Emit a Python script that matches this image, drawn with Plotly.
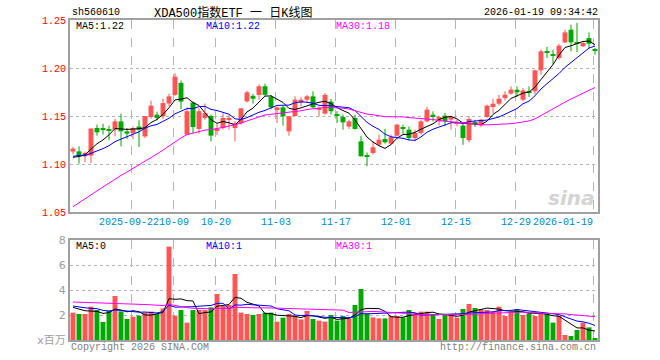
import numpy as np
import plotly.graph_objects as go

# ---------------- data ----------------
dates = [
    "2025-09-08", "2025-09-09", "2025-09-10", "2025-09-11", "2025-09-12", "2025-09-15", "2025-09-16",
    "2025-09-17", "2025-09-18", "2025-09-19", "2025-09-22", "2025-09-23", "2025-09-24", "2025-09-25",
    "2025-09-26", "2025-09-29", "2025-09-30", "2025-10-09", "2025-10-10", "2025-10-13", "2025-10-14",
    "2025-10-15", "2025-10-16", "2025-10-17", "2025-10-20", "2025-10-21", "2025-10-22", "2025-10-23",
    "2025-10-24", "2025-10-27", "2025-10-28", "2025-10-29", "2025-10-30", "2025-10-31", "2025-11-03",
    "2025-11-04", "2025-11-05", "2025-11-06", "2025-11-07", "2025-11-10", "2025-11-11", "2025-11-12",
    "2025-11-13", "2025-11-14", "2025-11-17", "2025-11-18", "2025-11-19", "2025-11-20", "2025-11-21",
    "2025-11-24", "2025-11-25", "2025-11-26", "2025-11-27", "2025-11-28", "2025-12-01", "2025-12-02",
    "2025-12-03", "2025-12-04", "2025-12-05", "2025-12-08", "2025-12-09", "2025-12-10", "2025-12-11",
    "2025-12-12", "2025-12-15", "2025-12-16", "2025-12-17", "2025-12-18", "2025-12-19", "2025-12-22",
    "2025-12-23", "2025-12-24", "2025-12-25", "2025-12-26", "2025-12-29", "2025-12-30", "2025-12-31",
    "2026-01-05", "2026-01-06", "2026-01-07", "2026-01-08", "2026-01-09", "2026-01-12", "2026-01-13",
    "2026-01-14", "2026-01-15", "2026-01-16", "2026-01-19",
]

open_ = [1.113, 1.1132, 1.108, 1.1087, 1.1375, 1.1375, 1.135, 1.1358, 1.1444, 1.134,
         1.1323, 1.139, 1.1288, 1.149, 1.1514, 1.1497, 1.163, 1.172, 1.1845, 1.1306,
         1.164, 1.1365, 1.148, 1.150, 1.135, 1.1375, 1.146, 1.1375, 1.1425, 1.1653,
         1.171, 1.172, 1.181, 1.170, 1.157, 1.159, 1.134, 1.150, 1.164, 1.167,
         1.1705, 1.1567, 1.1525, 1.165, 1.1507, 1.149, 1.139, 1.148, 1.1236, 1.1087,
         1.1115, 1.1201, 1.126, 1.1212, 1.1295, 1.1385, 1.1358, 1.127, 1.1323, 1.1444,
         1.1514, 1.1444, 1.1503, 1.1462, 1.1424, 1.140, 1.1247, 1.1424, 1.140, 1.149,
         1.1594, 1.1628, 1.1687, 1.1733, 1.1774, 1.167, 1.1757, 1.1757, 1.1976, 1.2170,
         1.2146, 1.2104, 1.2267, 1.2399, 1.2257, 1.2226, 1.2312, 1.2188]
high = [1.118, 1.1184, 1.113, 1.137, 1.141, 1.142, 1.140, 1.147, 1.1524, 1.1375,
        1.139, 1.1455, 1.150, 1.166, 1.1545, 1.168, 1.1733, 1.1945, 1.187, 1.159,
        1.165, 1.158, 1.163, 1.1515, 1.1425, 1.153, 1.151, 1.1445, 1.158, 1.1764,
        1.173, 1.183, 1.1837, 1.172, 1.160, 1.1608, 1.150, 1.1705, 1.170, 1.172,
        1.1757, 1.160, 1.174, 1.1677, 1.155, 1.1514, 1.146, 1.1514, 1.1295, 1.112,
        1.1236, 1.1306, 1.1365, 1.1306, 1.142, 1.141, 1.139, 1.1358, 1.146, 1.1594,
        1.1549, 1.1503, 1.153, 1.1503, 1.146, 1.142, 1.1497, 1.146, 1.147, 1.1618,
        1.168, 1.172, 1.1757, 1.1809, 1.1809, 1.1792, 1.1809, 1.1983, 1.2191, 1.2219,
        1.2191, 1.2253, 1.2399, 1.2451, 1.2469, 1.2278, 1.2371, 1.2208]
low = [1.110, 1.1003, 1.102, 1.101, 1.1295, 1.1306, 1.1247, 1.1288, 1.1184, 1.126,
       1.126, 1.1177, 1.127, 1.147, 1.1455, 1.147, 1.160, 1.171, 1.157, 1.1306,
       1.132, 1.1316, 1.146, 1.1235, 1.1305, 1.136, 1.136, 1.1235, 1.141, 1.164,
       1.163, 1.167, 1.171, 1.157, 1.1427, 1.140, 1.1295, 1.1497, 1.160, 1.1635,
       1.158, 1.1497, 1.1515, 1.1515, 1.1427, 1.1358, 1.1365, 1.1358, 1.108, 1.0976,
       1.1097, 1.1184, 1.1212, 1.1198, 1.1288, 1.1306, 1.1247, 1.1236, 1.1306, 1.1434,
       1.1444, 1.140, 1.1392, 1.1358, 1.1392, 1.120, 1.1226, 1.1385, 1.1385, 1.148,
       1.1531, 1.1608, 1.1663, 1.1722, 1.1698, 1.1653, 1.1698, 1.1722, 1.193, 1.2104,
       1.2035, 1.2087, 1.2260, 1.2174, 1.2167, 1.2219, 1.2208, 1.2139]
close = [1.116, 1.108, 1.1115, 1.137, 1.133, 1.1358, 1.1345, 1.1444, 1.134, 1.1316,
         1.1375, 1.1358, 1.150, 1.1608, 1.148, 1.1635, 1.1705, 1.191, 1.165, 1.155,
         1.1385, 1.155, 1.153, 1.1295, 1.136, 1.148, 1.148, 1.1425, 1.158, 1.1747,
         1.168, 1.181, 1.172, 1.159, 1.159, 1.1497, 1.1497, 1.167, 1.167, 1.1705,
         1.159, 1.158, 1.172, 1.155, 1.150, 1.1434, 1.1444, 1.1365, 1.108, 1.108,
         1.1174, 1.1253, 1.1226, 1.128, 1.141, 1.1365, 1.127, 1.1323, 1.1444, 1.1566,
         1.149, 1.149, 1.1444, 1.149, 1.1434, 1.127, 1.1469, 1.1418, 1.1462, 1.1608,
         1.1628, 1.168, 1.1722, 1.1774, 1.1747, 1.1767, 1.174, 1.1976, 1.2174, 1.2160,
         1.2128, 1.2233, 1.2371, 1.2267, 1.2253, 1.2260, 1.2253, 1.2184]
# volume, millions
volume = [2.19, 2.08, 2.08, 2.67, 2.40, 1.44, 2.35, 3.52, 2.29, 1.68,
          1.87, 1.95, 2.19, 2.27, 2.08, 2.53, 7.47, 1.95, 2.40, 1.39,
          2.40, 2.40, 2.40, 2.61, 3.68, 2.72, 2.80, 5.28, 2.19, 2.08,
          2.00, 2.08, 2.19, 2.19, 1.47, 1.79, 2.08, 1.95, 1.65, 2.32,
          1.68, 1.55, 1.47, 2.00, 1.55, 1.92, 1.73, 2.80, 4.08, 2.13,
          1.81, 1.73, 1.73, 1.92, 1.92, 1.81, 2.40, 2.19, 2.27, 2.27,
          2.00, 1.68, 2.00, 2.00, 1.79, 2.48, 2.88, 2.56, 2.45, 2.40,
          2.27, 2.67, 1.92, 2.27, 2.45, 2.00, 2.13, 1.92, 2.13, 2.13,
          1.39, 1.92, 0.40, 0.32, 0.80, 1.39, 1.01, 0.10]

# sessions before the visible window (needed only for moving averages)
prev_close = [0.992, 0.996, 1.000, 1.005, 1.012, 1.015, 1.018, 1.022, 1.025, 1.028,
              1.030, 1.034, 1.036, 1.040, 1.043, 1.046, 1.050, 1.050, 1.054, 1.089,
              1.100, 1.112, 1.115, 1.108, 1.110, 1.104, 1.102, 1.108, 1.105]
prev_volume = [2.5, 2.9, 2.6, 3.0, 2.4, 2.8, 2.7, 2.5, 3.1, 2.6, 2.8, 2.7, 2.9, 2.57,
               3.8, 4.6, 5.2, 4.4, 4.1, 3.83, 3.0, 2.6, 3.1, 2.7, 2.75, 2.9, 2.6, 2.8, 2.56]

tick_dates = ["2025-09-22", "2025-10-09", "2025-10-20", "2025-11-03", "2025-11-17",
              "2025-12-01", "2025-12-15", "2025-12-29", "2026-01-19"]
tick_text = ["2025-09-22", "10-09", "10-20", "11-03", "11-17", "12-01", "12-15", "12-29", "2026-01-19"]
price_ticks = [1.05, 1.10, 1.15, 1.20, 1.25]
vol_ticks = [0, 2, 4, 6, 8]
vol_tick_text = ["x百万", "2", "4", "6", "8"]

code = "sh560610"
title = "XDA500指数ETF 一 日K线图"
stamp = "2026-01-19 09:34:42"

# ---------------- derived ----------------
n = len(dates)
xs = np.arange(n)
o = np.array(open_); h = np.array(high); l = np.array(low); c = np.array(close)
v = np.array(volume)
up = c >= o

def ma(prev, vals, w):
    s = np.concatenate([np.array(prev), np.array(vals)])
    out = np.convolve(s, np.ones(w) / w, mode="valid")
    return out[-len(vals):]

ma5, ma10, ma30 = ma(prev_close, close, 5), ma(prev_close, close, 10), ma(prev_close, close, 30)
vma5, vma10, vma30 = ma(prev_volume, volume, 5), ma(prev_volume, volume, 10), ma(prev_volume, volume, 30)

RED = "#ff5555"
GREEN = "#00a800"
GRID = "#b4b4b4"
BORDER = "#a0a0a0"
MONO = "Liberation Mono, DejaVu Sans Mono, Noto Sans CJK SC, monospace"

tick_idx = [dates.index(d) for d in tick_dates]
grid_x = [i - 0.3 for i in tick_idx]

fig = go.Figure()

# wicks
for mask, col in ((up, RED), (~up, GREEN)):
    wx, wy = [], []
    for i in xs[mask]:
        wx += [i, i, None]
        wy += [l[i], h[i], None]
    fig.add_trace(go.Scatter(x=wx, y=wy, mode="lines", line=dict(color=col, width=1),
                             xaxis="x", yaxis="y", hoverinfo="skip", showlegend=False))

# bodies
body_base = np.minimum(o, c)
body_h = np.maximum(np.abs(c - o), 0.0012)
colors = [RED if u else GREEN for u in up]
fig.add_trace(go.Bar(x=xs, y=body_h, base=body_base, width=0.82, marker=dict(color=colors, line=dict(width=0)),
                     xaxis="x", yaxis="y", showlegend=False))

for arr, col in ((ma5, "#000000"), (ma10, "#0000ff"), (ma30, "#ff00ff")):
    fig.add_trace(go.Scatter(x=xs, y=arr, mode="lines", line=dict(color=col, width=1),
                             xaxis="x", yaxis="y", showlegend=False))

# volume
fig.add_trace(go.Bar(x=xs, y=v, width=0.82, marker=dict(color=colors, line=dict(width=0)),
                     xaxis="x2", yaxis="y2", showlegend=False))
for arr, col in ((vma5, "#000000"), (vma10, "#0000ff"), (vma30, "#ff00ff")):
    fig.add_trace(go.Scatter(x=xs, y=arr, mode="lines", line=dict(color=col, width=1),
                             xaxis="x2", yaxis="y2", showlegend=False))

L, R, T, B, W, H = 70, 62, 20, 20, 660, 360
PW, PH = W - L - R, H - T - B

def px(xp):
    return (xp - L) / PW

def py(yp):
    return (H - B - yp) / PH

axis_common = dict(showline=True, mirror=True, linecolor=BORDER, linewidth=2, zeroline=False, ticks="")
fig.update_layout(
    width=W, height=H, margin=dict(l=L, r=R, t=T, b=B),
    paper_bgcolor="white", plot_bgcolor="white", barmode="overlay", showlegend=False,
    font=dict(family=MONO, size=10, color="#000"),
    xaxis=dict(domain=[0, 1], range=[-0.5, n - 0.5], anchor="y", tickvals=grid_x, showticklabels=False,
               showgrid=True, gridcolor=GRID, griddash="dash", gridwidth=1, **axis_common),
    xaxis2=dict(domain=[0, 1], range=[-0.5, n - 0.5], anchor="y2", tickvals=grid_x, showticklabels=False,
                showgrid=True, gridcolor=GRID, griddash="dash", gridwidth=1, **axis_common),
    yaxis=dict(domain=[py(212), 1], range=[1.05, 1.25], anchor="x", tickvals=price_ticks,
               ticktext=[f"{t:.2f}" for t in price_ticks], tickfont=dict(color="#ff0000", size=10, family=MONO),
               showgrid=True, gridcolor=GRID, griddash="dot", gridwidth=1, **axis_common),
    yaxis2=dict(domain=[0, py(240)], range=[0, 8], anchor="x2", tickvals=vol_ticks, ticktext=vol_tick_text,
                tickfont=dict(color="#a0a0a0", size=11, family="DejaVu Sans, Noto Sans CJK SC"),
                showgrid=True, gridcolor=GRID, griddash="dot", gridwidth=1, **axis_common),
)

ann = []
def text(x, y, s, color="#000", anchor="left", size=10, family=MONO, **kw):
    ann.append(dict(xref="paper", yref="paper", x=px(x), y=py(y), text=s, showarrow=False,
                    xanchor=anchor, yanchor="middle", font=dict(color=color, size=size, family=family), **kw))

text(70, 13, code)
text(152, 13, title, size=12)
text(600, 13, stamp, anchor="right")
text(74, 27, f"MA5:{ma5[-1]:.2f}")
text(204, 27, f"MA10:{ma10[-1]:.2f}", color="#0000ff")
text(334, 27, f"MA30:{ma30[-1]:.2f}", color="#ff00ff")
text(74, 246, f"MA5:{int(vma5[-1])}")
text(204, 246, f"MA10:{int(vma10[-1])}", color="#0000ff")
text(334, 246, f"MA30:{int(vma30[-1])}", color="#ff00ff")
text(69, 347, "Copyright 2026 SINA.COM", color="#808080")
text(598, 347, "http://finance.sina.com.cn", color="#808080", anchor="right")
ann.append(dict(xref="paper", yref="paper", x=px(597), y=py(198), text="sina", showarrow=False,
                xanchor="right", yanchor="middle",
                font=dict(color="#d4d4d4", size=20, family="DejaVu Sans", weight="bold", style="italic")))

for i, (idx, t) in enumerate(zip(tick_idx, tick_text)):
    first, last = i == 0, i == len(tick_idx) - 1
    xpos = idx if last else (idx - 0.75 if first else idx - 0.1)
    ann.append(dict(xref="x", yref="paper", x=xpos, y=py(222), text=t, showarrow=False,
                    xanchor="right" if last else "center", yanchor="middle",
                    font=dict(color="#0088cc", size=10, family=MONO)))

fig.update_layout(annotations=ann)
fig.write_html("out.html", config={"displayModeBar": False},
               post_script="document.body.style.margin='0';document.body.style.padding='0';")
